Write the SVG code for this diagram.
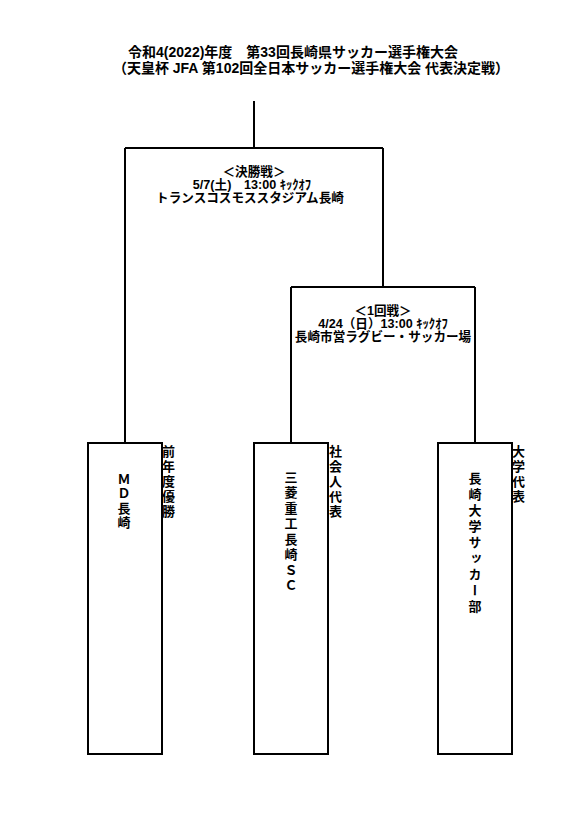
<svg xmlns="http://www.w3.org/2000/svg" width="571" height="813" viewBox="0 0 571 813">
<style>
  .t { font-family: "Liberation Sans", "Noto Sans CJK JP", sans-serif; font-weight: bold; fill: #000; }
  .h { font-size: 12.6px; text-anchor: middle; }
  .title { font-size: 14px; text-anchor: middle; }
  .v { font-size: 13px; writing-mode: vertical-rl; font-family: "Noto Sans CJK JP", sans-serif; font-weight: bold; }
  .ln { fill: none; stroke: #000; stroke-width: 2; }
  .box { fill: #fff; stroke: #000; stroke-width: 2; }
</style>
<rect width="571" height="813" fill="#fff"/>
<g id="title">
  <text class="t title" x="293" y="57">令和4(2022)年度　第33回長崎県サッカー選手権大会</text>
  <text class="t title" x="311" y="73">（天皇杯 JFA 第102回全日本サッカー選手権大会 代表決定戦）</text>
</g>
<g id="connectors">
  <path class="ln" d="M254,101 V148 M125,148 H383 M125,148 V443 M383,148 V287 M291,287 H475 M291,287 V443 M475,287 V443"/>
</g>
<g id="final">
  <text class="t h" x="254" y="176">＜決勝戦＞</text>
  <text class="t h" x="252" y="189">5/7(土)　13:00 ｷｯｸｵﾌ</text>
  <text class="t h" x="250" y="202">トランスコスモススタジアム長崎</text>
</g>
<g id="round1">
  <text class="t h" x="383" y="315">＜1回戦＞</text>
  <text class="t h" x="383" y="328">4/24（日）13:00 ｷｯｸｵﾌ</text>
  <text class="t h" x="383" y="341">長崎市営ラグビー・サッカー場</text>
</g>
<g id="team-md">
  <rect class="box" x="88" y="443" width="74" height="311"/>
  <text class="v" x="124" y="472.5 487 501.5 516">ＭＤ長崎</text>
  <text class="v" x="168.5" y="445 460 475 490 505">前年度優勝</text>
</g>
<g id="team-mhi">
  <rect class="box" x="254" y="443" width="74" height="311"/>
  <text class="v" x="291" y="470.5 486 501.5 517 532.5 548 563.5 579">三菱重工長崎ＳＣ</text>
  <text class="v" x="335.5" y="445 460 475 490 505">社会人代表</text>
</g>
<g id="team-nu">
  <rect class="box" x="438" y="443" width="74" height="311"/>
  <text class="v" x="475" y="472 488 504 520 536 552 568 584 600">長崎大学サッカー部</text>
  <text class="v" x="518.5" y="445 460 475 490">大学代表</text>
</g>
</svg>
